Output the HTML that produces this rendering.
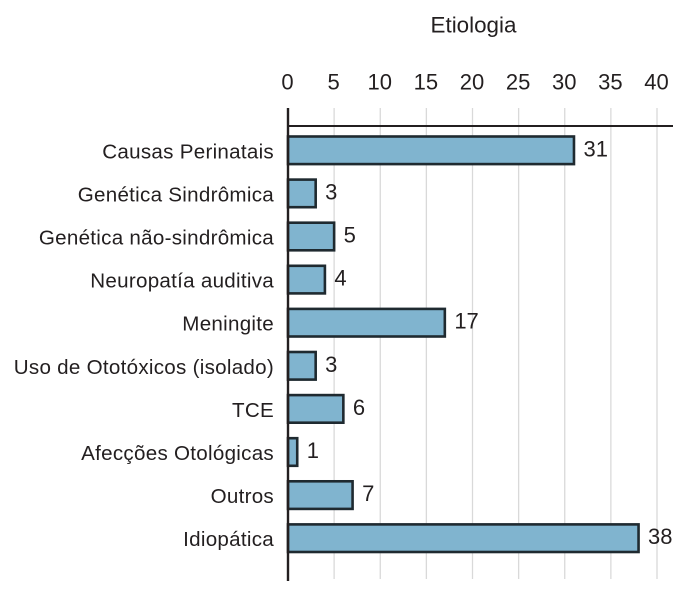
<!DOCTYPE html>
<html lang="pt">
<head>
<meta charset="utf-8">
<title>Etiologia</title>
<style>
html,body{margin:0;padding:0;background:#fff;}
svg{display:block;}
text{font-family:"Liberation Sans",sans-serif;fill:#231f20;}
</style>
</head>
<body>
<svg id="chart" xmlns="http://www.w3.org/2000/svg" width="700" height="601" viewBox="0 0 700 601"></svg>
<script>
const categories = ["Causas Perinatais","Genética Sindrômica","Genética não-sindrômica","Neuropatía auditiva","Meningite","Uso de Ototóxicos (isolado)","TCE","Afecções Otológicas","Outros","Idiopática"];
const values = [31,3,5,4,17,3,6,1,7,38];
const tickLabels = [0,5,10,15,20,25,30,35,40];
const chartTitle = "Etiologia";

const svg = document.getElementById('chart');
const NS = 'http://www.w3.org/2000/svg';
const x = v => 288 + v * 9.225;
const y = i => 150.3 + i * 43.1;
const BAR_H = 27.6;

function make(tag, attrs, text) {
  const el = document.createElementNS(NS, tag);
  for (const k in attrs) el.setAttribute(k, attrs[k]);
  if (text !== undefined) el.textContent = text;
  svg.appendChild(el);
  return el;
}

const title = make('text', {x: 473.5, y: 32.3, 'text-anchor': 'middle', 'font-size': 22.4}, chartTitle);



tickLabels.forEach(t => {
  if (t > 0) {
    const g = make('line', {x1: x(t), x2: x(t), y1: 108, y2: 579, stroke: '#d9d9d9', 'stroke-width': 1.3});
    
    
  }
  const l = make('text', {x: x(t) - 0.5, y: 89.3, 'text-anchor': 'middle', 'font-size': 22}, t);
  
  
});

const topAxis = make('line', {x1: 288, x2: 673, y1: 126, y2: 126, stroke: '#231f20', 'stroke-width': 2});



categories.forEach((c, i) => {
  const lab = make('text', {x: 274, y: y(i) + 8, 'text-anchor': 'end', 'font-size': 20.6, 'letter-spacing': 0.27}, c);
  
  

  const bar = make('rect', {x: x(0), y: y(i) - BAR_H / 2, width: x(values[i]) - x(0), height: BAR_H, fill: '#80b4cf', stroke: '#1f2a30', 'stroke-width': 2.6});
  
  

  const val = make('text', {x: x(values[i]) + 9.5, y: y(i) + 6, 'font-size': 22}, values[i]);
  
  
});

const yAxis = make('line', {x1: 288, x2: 288, y1: 108, y2: 581, stroke: '#231f20', 'stroke-width': 2.4});


</script>
</body>
</html>
